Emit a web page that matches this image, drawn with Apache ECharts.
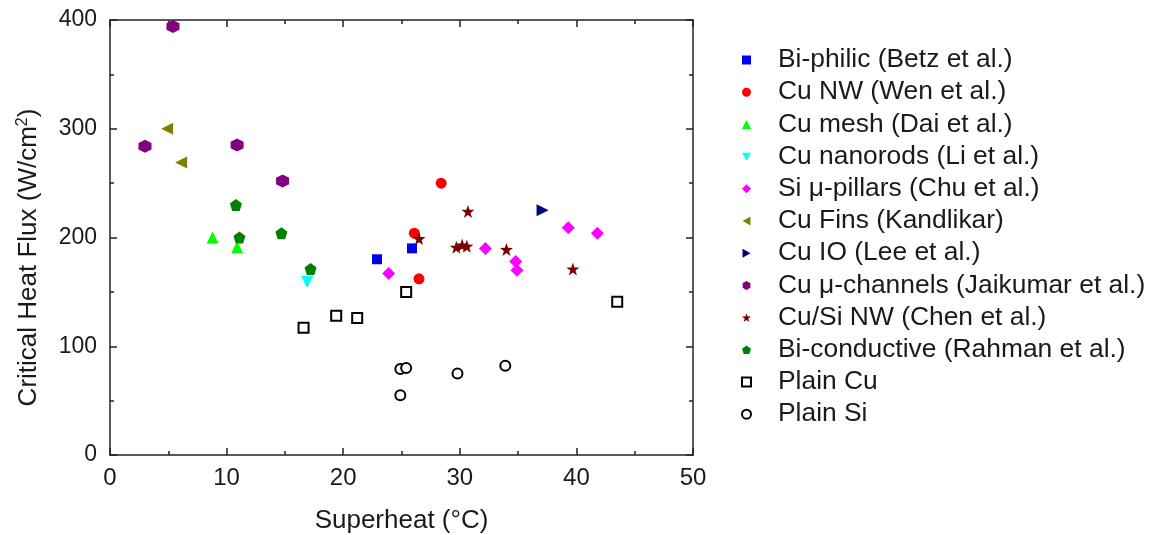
<!DOCTYPE html>
<html><head><meta charset="utf-8">
<script src="https://cdn.jsdelivr.net/npm/echarts@6/dist/echarts.min.js"></script>
<style>html,body{margin:0;padding:0;background:#fff}#c{width:1151px;height:535px}</style>
</head><body><div id="c"></div>
<script>
// ---- data ----
const seriesNames = ['Bi-philic (Betz et al.)','Cu NW (Wen et al.)','Cu mesh (Dai et al.)','Cu nanorods (Li et al.)','Si \u03bc-pillars (Chu et al.)','Cu Fins (Kandlikar)','Cu IO (Lee et al.)','Cu \u03bc-channels (Jaikumar et al.)','Cu/Si NW (Chen et al.)','Bi-conductive (Rahman et al.)','Plain Cu','Plain Si'];
const biphilic = [[22.9,180],[25.9,190]];
const cuNW = [[28.4,250],[26.1,204],[26.5,162]];
const cuMesh = [[8.8,200],[10.9,191]];
const cuNanorods = [[16.9,159]];
const siPillars = [[23.9,167],[32.2,190],[34.8,178],[34.9,170],[39.3,209],[41.8,204]];
const cuFins = [[4.9,300],[6.1,269]];
const cuIO = [[37.1,225]];
const cuChannels = [[5.4,394],[3.0,284],[10.9,285],[14.8,252]];
const cuSiNW = [[26.5,199],[30.7,224],[29.7,191],[30.2,193],[30.6,192],[34.0,189],[39.7,171]];
const biConductive = [[10.8,230],[11.1,200],[14.7,204],[17.2,171]];
const plainCu = [[16.6,117],[19.4,128],[21.2,126],[25.4,150],[43.5,141]];
const plainSi = [[24.9,79],[25.4,80],[24.9,55],[29.8,75],[33.9,82]];
const xTicks = [0,10,20,30,40,50];
const yTicks = [0,100,200,300,400];

// ---- symbols ----
const SYM = {
  down: 'path://M0,0 L10,0 L5,8.7 Z',
  left: 'path://M8.7,0 L8.7,10 L0,5 Z',
  right: 'path://M0,0 L0,10 L8.7,5 Z',
  hex: 'path://M5,0 L9.33,2.5 L9.33,7.5 L5,10 L0.67,7.5 L0.67,2.5 Z',
  pent: 'path://M5,0 L10,3.63 L8.09,9.51 L1.91,9.51 L0,3.63 Z',
  star: 'path://M5,0 L6.18,3.38 L9.76,3.45 L6.9,5.62 L7.94,9.05 L5,7 L2.06,9.05 L3.1,5.62 L0.24,3.45 L3.82,3.38 Z'
};
const defs = [
  [biphilic,'rect','#0000ff',10],
  [cuNW,'circle','#ff0000',11],
  [cuMesh,'triangle','#00ff00',12],
  [cuNanorods,SYM.down,'#00ffff',12],
  [siPillars,'diamond','#ff00ff',13],
  [cuFins,SYM.left,'#808000',12],
  [cuIO,SYM.right,'#000080',12],
  [cuChannels,SYM.hex,'#800080',13],
  [cuSiNW,SYM.star,'#800000',13],
  [biConductive,SYM.pent,'#008000',12],
  [plainCu,'rect','#ffffff',10],
  [plainSi,'circle','#ffffff',10]
];
const series = defs.map((d,i)=>{
  const open = i>=10;
  return {
    name: seriesNames[i], type:'scatter', data:d[0], symbol:d[1], symbolSize:d[3],
    itemStyle: open ? {color:'#ffffff', borderColor:'#000', borderWidth:2, opacity:1} : {color:d[2], opacity:1},
    emphasis:{disabled:true}, z: 3
  };
});
const font = 'Liberation Sans, Arial, sans-serif';
const lineC = '#222';
const axisLineC = {show:true, onZero:false, lineStyle:{color:lineC, width:1.5}};
const tickCommon = {show:true, inside:true, length:7, lineStyle:{color:lineC, width:1.5}};
const minorCommon = {show:true, splitNumber:2, length:4, lineStyle:{color:lineC, width:1.5}};
const chart = echarts.init(document.getElementById('c'));
chart.setOption({
  animation:false,
  backgroundColor:'#fff',
  grid:{left:110, right:458, top:20, bottom:80, show:false, containLabel:false, outerBoundsMode:'none'},
  legend:{
    orient:'vertical', left:736, top:42, itemGap:6.2, itemWidth:9, itemHeight:9,
    data: seriesNames,
    textStyle:{fontSize:26.4, lineHeight:26, color:'#1a1a1a', fontFamily:font, padding:[0,0,0,22]},
    selectedMode:false
  },
  xAxis:[{
    type:'value', min:0, max:50, interval:10, position:'bottom',
    name:'Superheat (\u00b0C)', nameLocation:'middle', nameGap:53,
    nameTextStyle:{fontSize:26, color:'#1a1a1a', fontFamily:font},
    axisLine:axisLineC,
    axisTick:tickCommon, minorTick:minorCommon,
    axisLabel:{fontSize:24, color:'#1a1a1a', fontFamily:font, margin:11, formatter:v=>xTicks.includes(v)?String(v):''},
    splitLine:{show:false}
  },{
    type:'value', min:0, max:50, interval:10, position:'top',
    axisLine:axisLineC,
    axisTick:tickCommon, minorTick:minorCommon, axisLabel:{show:false}, splitLine:{show:false}
  }],
  yAxis:[{
    type:'value', min:0, max:400, interval:100, position:'left',
    name:'{a|Critical Heat Flux (W/cm}{s|2}{a|)}', nameLocation:'middle', nameGap:67,
    nameTextStyle:{padding:[0,40,0,0], rich:{a:{fontSize:26, color:'#1a1a1a', fontFamily:font}, s:{fontSize:16, color:'#1a1a1a', fontFamily:font, verticalAlign:'top', padding:[0,0,12,0]}}},
    axisLine:axisLineC,
    axisTick:tickCommon, minorTick:minorCommon,
    axisLabel:{fontSize:23, color:'#1a1a1a', fontFamily:font, margin:13, formatter:v=>yTicks.includes(v)?String(v):''},
    splitLine:{show:false}
  },{
    type:'value', min:0, max:400, interval:100, position:'right',
    axisLine:axisLineC,
    axisTick:tickCommon, minorTick:minorCommon, axisLabel:{show:false}, splitLine:{show:false}
  }],
  series: series
});
</script></body></html>
